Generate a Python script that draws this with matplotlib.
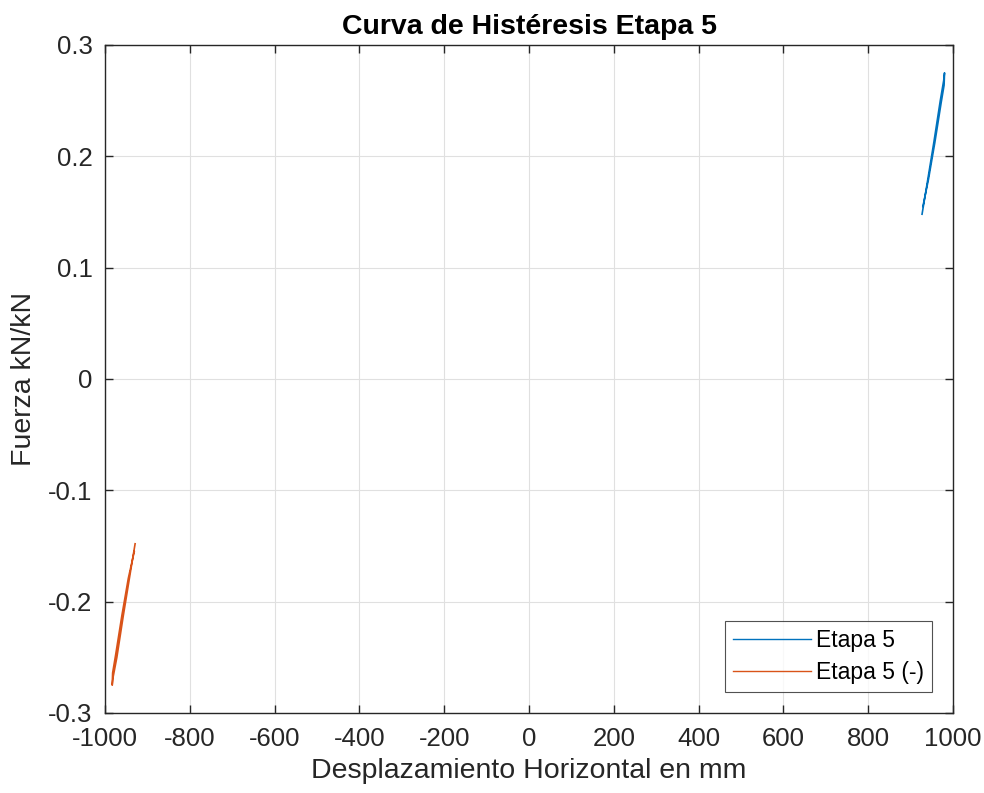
import matplotlib
matplotlib.use("Agg")
import matplotlib.pyplot as plt
from matplotlib.ticker import FuncFormatter

plt.rcParams['font.family'] = ['Liberation Sans', 'DejaVu Sans']
plt.rcParams['axes.unicode_minus'] = False

# Etapa 5 loop (positive)
disp_pos = [927, 940, 955, 970, 978, 980, 979, 972, 957, 942, 929]
force_pos = [0.148, 0.178, 0.213, 0.250, 0.268, 0.275, 0.264, 0.248, 0.212, 0.179, 0.155]
# Etapa 5 (-) loop (negative)
disp_neg = [-929, -942, -957, -972, -981, -983, -982, -975, -960, -945, -931]
force_neg = [-0.148, -0.178, -0.213, -0.250, -0.268, -0.275, -0.264, -0.248, -0.212, -0.179, -0.155]

xticks = [-1000, -800, -600, -400, -200, 0, 200, 400, 600, 800, 1000]
yticks = [-0.3, -0.2, -0.1, 0, 0.1, 0.2, 0.3]

fig = plt.figure(figsize=(9.84, 7.93), dpi=100)
ax = fig.add_axes([105/984, 1-713/793, (953-105)/984, (713-45)/793])

dark = '#262626'
ax.plot(disp_pos, force_pos, color='#0072BD', lw=1.2, label='Etapa 5')
ax.plot(disp_neg, force_neg, color='#D95319', lw=1.2, label='Etapa 5 (-)')

ax.set_xlim(-1000, 1000)
ax.set_ylim(-0.3, 0.3)
ax.set_xticks(xticks)
ax.set_yticks(yticks)
ax.yaxis.set_major_formatter(FuncFormatter(lambda v, p: '0' if abs(v) < 1e-9 else ('%g' % round(v, 2))))
ax.grid(True, color='#e0e0e0', lw=0.8)
ax.set_axisbelow(True)
ax.tick_params(direction='in', length=6, width=1.0, colors=dark, labelsize=18.5,
               top=True, right=True)
ax.tick_params(axis='x', pad=10)
ax.tick_params(axis='y', pad=9)
for s in ax.spines.values():
    s.set_color(dark)
    s.set_linewidth(1.0)

ax.set_title('Curva de Histéresis Etapa 5', fontsize=20.5, fontweight='bold', color='black', pad=8)
ax.set_xlabel('Desplazamiento Horizontal en mm', fontsize=20.5, color=dark, labelpad=5)
ax.set_ylabel('Fuerza kN/kN', fontsize=20.5, color=dark, labelpad=8)

leg = ax.legend(loc='lower right', fontsize=16.5, frameon=True, fancybox=False,
                edgecolor=dark, handlelength=3.4, borderaxespad=0.9,
                labelspacing=0.4, handletextpad=0.25, borderpad=0.35)
leg.get_frame().set_linewidth(0.8)
for line in leg.get_lines():
    line.set_linewidth(1.0)
for t in leg.get_texts():
    t.set_color('black')

fig.savefig('out.png', dpi=100, facecolor='white')
